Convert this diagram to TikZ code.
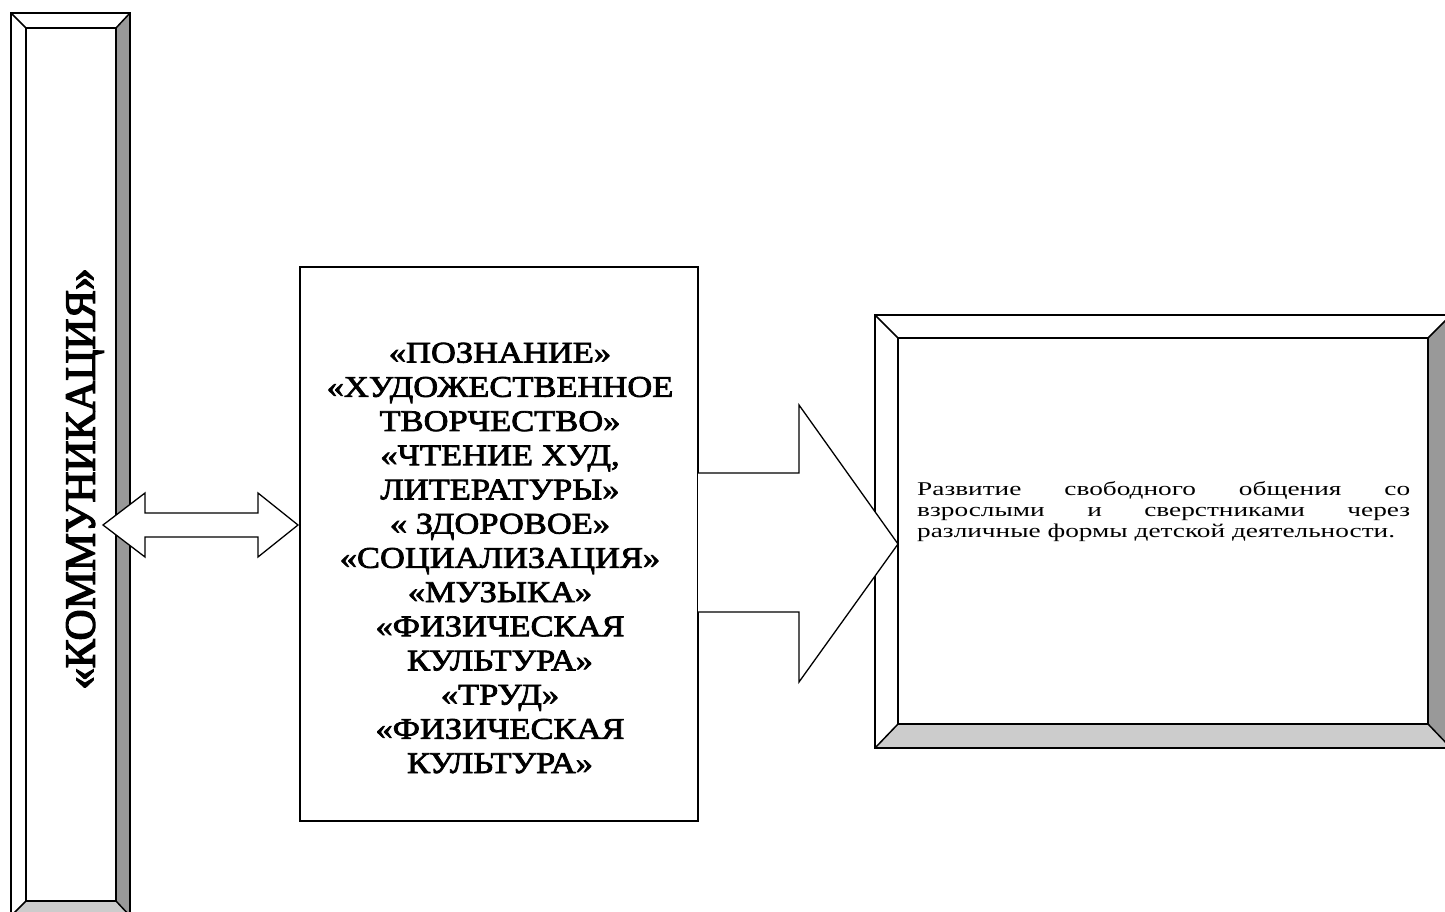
\documentclass[tikz,border=0pt]{standalone}
\usepackage{fontspec}
\setmainfont{Liberation Serif}
\newfontfamily\midbold{Liberation Serif}[FakeBold=2.5,FakeStretch=1.15]
\newfontfamily\vertbold{Liberation Serif}[FakeBold=3]
\newfontfamily\goalfont{Liberation Serif}[FakeStretch=1.4]
\begin{document}
\begin{tikzpicture}[x=1pt,y=-1pt,
  edge/.style={draw=black,line width=1.5pt,line join=miter},
  bevdark/.style={fill=black!40},
  bevmid/.style={fill=black!20},
  arrowshape/.style={draw=black,line width=1.3pt,fill=white,line join=miter},
  bigtext/.style={font=\midbold\fontsize{30}{34.2}\selectfont,align=center,inner sep=0pt},
  verttext/.style={font=\vertbold\fontsize{43}{46}\selectfont,inner sep=0pt},
  smalltext/.style={font=\goalfont\fontsize{19.5}{22}\selectfont,inner sep=0pt,anchor=base west}
]
\useasboundingbox (0,0) rectangle (1445,912);
\fill[white] (0,0) rectangle (1445,912);

% ---- left bevel frame ----
\coordinate (LO1) at (11,13);  \coordinate (LO2) at (130,13);
\coordinate (LO3) at (130,916); \coordinate (LO4) at (11,916);
\coordinate (LI1) at (26,28);  \coordinate (LI2) at (116,28);
\coordinate (LI3) at (116,901); \coordinate (LI4) at (26,901);
\fill[bevdark] (LO2) -- (LO3) -- (LI3) -- (LI2) -- cycle;
\fill[bevmid] (LO4) -- (LO3) -- (LI3) -- (LI4) -- cycle;
\draw[edge] (LO1) rectangle (LO3);
\draw[edge] (LI1) rectangle (LI3);
\draw[edge] (LO1) -- (LI1) (LO2) -- (LI2) (LO3) -- (LI3) (LO4) -- (LI4);
\node[verttext,rotate=90] (komm) at (85,479) {«КОММУНИКАЦИЯ»};

% ---- right bevel frame ----
\coordinate (RO1) at (875,315);  \coordinate (RO2) at (1451,315);
\coordinate (RO3) at (1451,748); \coordinate (RO4) at (875,748);
\coordinate (RI1) at (898,338);  \coordinate (RI2) at (1428,338);
\coordinate (RI3) at (1428,724); \coordinate (RI4) at (898,724);
\fill[bevdark] (RO2) -- (RO3) -- (RI3) -- (RI2) -- cycle;
\fill[bevmid] (RO4) -- (RO3) -- (RI3) -- (RI4) -- cycle;
\draw[edge] (RO1) rectangle (RO3);
\draw[edge] (RI1) rectangle (RI3);
\draw[edge] (RO1) -- (RI1) (RO2) -- (RI2) (RO3) -- (RI3) (RO4) -- (RI4);
\node[smalltext] (goal) at (917,495) {\begin{tabular}[t]{@{}l@{}}
\makebox[493pt][s]{Развитие свободного общения со}\\[-1pt]
\makebox[493pt][s]{взрослыми и сверстниками через}\\[-1pt]
различные формы детской деятельности.
\end{tabular}};

% ---- middle box ----
\draw[edge] (300,267) rectangle (698,821);
\node[bigtext] (areas) at (500,558) {«ПОЗНАНИЕ»\\«ХУДОЖЕСТВЕННОЕ\\ТВОРЧЕСТВО»\\«ЧТЕНИЕ ХУД,\\ЛИТЕРАТУРЫ»\\« ЗДОРОВОЕ»\\«СОЦИАЛИЗАЦИЯ»\\«МУЗЫКА»\\«ФИЗИЧЕСКАЯ\\КУЛЬТУРА»\\«ТРУД»\\«ФИЗИЧЕСКАЯ\\КУЛЬТУРА»};

% ---- big block arrow ----
\draw[arrowshape] (698,473) -- (799,473) -- (799,405) -- (898,544) -- (799,682) -- (799,612) -- (698,612);

% ---- double block arrow ----
\draw[arrowshape] (103,525) -- (145,493) -- (145,513) -- (258,513) -- (258,493) -- (298,525)
  -- (258,557) -- (258,537) -- (145,537) -- (145,557) -- cycle;
\end{tikzpicture}
\end{document}
